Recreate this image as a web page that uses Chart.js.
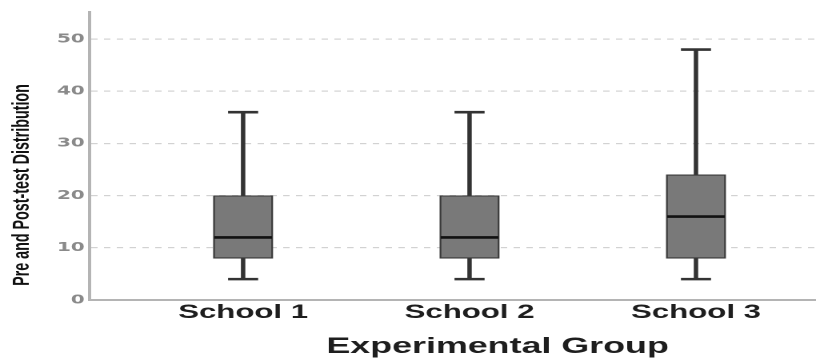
<!DOCTYPE html>
<html>
<head>
<meta charset="utf-8">
<script src="https://cdn.jsdelivr.net/npm/chart.js@4/dist/chart.umd.min.js"></script>
<style>
  html, body { margin: 0; padding: 0; background: #fff; overflow: hidden; }
  /* the plot is laid out narrow and widened horizontally */
  #wrap { width: 510px; height: 360px; transform: scaleX(1.6); transform-origin: 0 0; }
  canvas { display: block; }
</style>
</head>
<body>
<div id="wrap"><canvas id="c" width="510" height="360"></canvas></div>
<script>
// Box-plot summaries per school
const categories = ['School 1', 'School 2', 'School 3'];
const whiskerLow = [4, 4, 4];
const q1 = [8, 8, 8];
const median = [12, 12, 16];
const q3 = [20, 20, 24];
const whiskerHigh = [36, 36, 48];
const yTicks = [0, 10, 20, 30, 40, 50];

const xTitle = 'Experimental Group';
const yTitle = 'Pre and Post-test Distribution';

const pos = categories.map((_, i) => i + 1);

const axisTitles = {
  id: 'axisTitles',
  afterDraw(chart) {
    const { ctx, chartArea } = chart;
    ctx.save();
    ctx.fillStyle = '#1e1e1e';
    ctx.font = 'bold 22.4px "Liberation Sans", Arial, sans-serif';
    ctx.textAlign = 'center';
    ctx.textBaseline = 'alphabetic';
    ctx.fillText(xTitle, chartArea.left + 255, 353);
    ctx.translate(14, 185);
    ctx.rotate(-Math.PI / 2);
    ctx.fillStyle = '#111';
    ctx.font = 'bold 14.3px "Liberation Sans", Arial, sans-serif';
    ctx.textBaseline = 'middle';
    ctx.fillText(yTitle, 0, 0);
    ctx.restore();
  }
};

new Chart(document.getElementById('c'), {
  type: 'bar',
  data: {
    datasets: [
      {
        label: 'whisker',
        data: pos.map((x, i) => ({ x, y: [whiskerLow[i], whiskerHigh[i]] })),
        backgroundColor: '#333',
        barThickness: 2.1,
        grouped: false,
        order: 4
      },
      {
        label: 'box',
        data: pos.map((x, i) => ({ x, y: [q1[i], q3[i]] })),
        backgroundColor: '#797979',
        borderColor: '#3a3a3a',
        borderWidth: 1.2,
        borderSkipped: false,
        barThickness: 37,
        grouped: false,
        order: 3
      },
      {
        type: 'line',
        label: 'median',
        data: pos.map((x, i) => ({ x, y: median[i] })),
        showLine: false,
        pointStyle: 'line',
        pointRadius: 18,
        pointBorderWidth: 2.6,
        pointBorderColor: '#111',
        order: 1
      },
      {
        type: 'line',
        label: 'caps',
        data: pos.flatMap((x, i) => [{ x, y: whiskerLow[i] }, { x, y: whiskerHigh[i] }]),
        showLine: false,
        pointStyle: 'line',
        pointRadius: 9.4,
        pointBorderWidth: 2.6,
        pointBorderColor: '#333',
        order: 2
      }
    ]
  },
  options: {
    responsive: false,
    devicePixelRatio: 2,
    animation: false,
    events: [],
    layout: { autoPadding: false, padding: { top: 12, left: 0, right: 0, bottom: 0 } },
    plugins: { legend: { display: false }, tooltip: { enabled: false } },
    scales: {
      x: {
        type: 'linear',
        offset: false,
        min: 0.322,
        max: 3.53,
        afterBuildTicks: s => { s.ticks = pos.map(v => ({ value: v })); },
        afterFit: s => { s.height = 60; s.paddingLeft = 0; s.paddingRight = 0; },
        ticks: {
          callback: v => categories[v - 1] || '',
          color: '#1e1e1e',
          font: { family: '"Liberation Sans", Arial, sans-serif', size: 19.5, weight: 'bold' },
          padding: -7,
          maxRotation: 0,
          autoSkip: false
        },
        grid: { display: false },
        border: { display: true, color: '#b4b4b4', width: 2 }
      },
      y: {
        min: 0,
        max: 55.2,
        afterBuildTicks: s => { s.ticks = yTicks.map(v => ({ value: v })); },
        afterFit: s => { s.width = 56; s.paddingTop = 0; s.paddingBottom = 0; },
        ticks: {
          color: '#8a8a8a',
          font: { family: '"DejaVu Sans", sans-serif', size: 12.5, weight: 'bold' },
          padding: 3
        },
        grid: {
          color: c => (c.tick && c.tick.value === 0 ? 'rgba(0,0,0,0)' : '#d2d2d2'),
          lineWidth: 1.2,
          drawTicks: false
        },
        border: { display: true, color: '#b4b4b4', width: 2, dash: [4, 4] }
      }
    }
  },
  plugins: [axisTitles]
});
</script>
</body>
</html>
